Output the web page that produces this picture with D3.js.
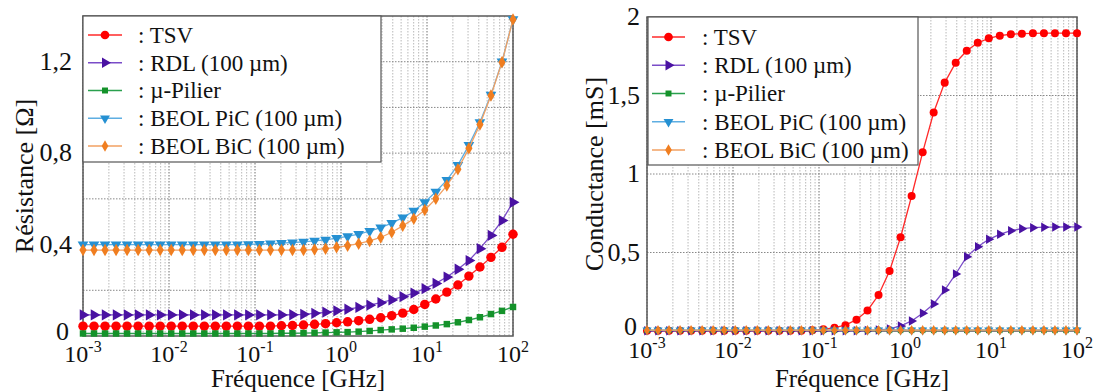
<!DOCTYPE html>
<html><head><meta charset="utf-8">
<script src="https://cdn.jsdelivr.net/npm/d3@7"></script>
<style>
body{margin:0;background:#fff}
svg{display:block}
text{font-family:"Liberation Serif","Times New Roman",serif;fill:#111}
</style>
</head><body>
<svg id="c" width="1100" height="392"></svg>
<script>
// ---------- DATA ----------
const freqGHz = [0.001,0.001343,0.001804,0.002424,0.003256,0.004375,0.005878,0.007897,0.01061,0.01425,
  0.01915,0.02573,0.03456,0.04642,0.06236,0.08377,0.1125,0.1512,0.2031,0.2728,
  0.3665,0.4924,0.6614,0.8886,1.194,1.604,2.154,2.894,3.888,5.223,
  7.017,9.427,12.66,17.01,22.86,30.70,41.25,55.41,74.44,100];

const seriesNames = [": TSV", ": RDL (100 µm)", ": µ-Pilier", ": BEOL PiC (100 µm)", ": BEOL BiC (100 µm)"];

// Résistance [Ω]
const resTSV = [0.043,0.043,0.043,0.043,0.043,0.043,0.043,0.043,0.043,0.043,
  0.043,0.043,0.043,0.043,0.043,0.043,0.043,0.043,0.045,0.046,
  0.048,0.051,0.054,0.058,0.062,0.067,0.073,0.080,0.089,0.100,
  0.116,0.138,0.162,0.192,0.223,0.262,0.302,0.344,0.388,0.445];
const resRDL = [0.092,0.092,0.092,0.092,0.092,0.092,0.092,0.092,0.092,0.092,
  0.092,0.092,0.092,0.092,0.092,0.092,0.092,0.092,0.092,0.093,
  0.095,0.099,0.104,0.110,0.117,0.125,0.135,0.146,0.158,0.172,
  0.188,0.207,0.230,0.258,0.292,0.330,0.382,0.440,0.505,0.585];
const resMu = [0.011,0.011,0.011,0.011,0.011,0.011,0.011,0.011,0.011,0.011,
  0.011,0.011,0.011,0.011,0.011,0.011,0.011,0.011,0.012,0.012,
  0.013,0.014,0.015,0.016,0.017,0.019,0.022,0.026,0.029,0.032,
  0.036,0.041,0.046,0.052,0.060,0.070,0.082,0.096,0.110,0.127];
const resPiC = [0.400,0.400,0.400,0.400,0.400,0.400,0.400,0.400,0.400,0.400,
  0.400,0.400,0.400,0.400,0.400,0.401,0.402,0.404,0.406,0.409,
  0.412,0.416,0.421,0.428,0.436,0.446,0.459,0.474,0.494,0.518,
  0.547,0.585,0.631,0.682,0.748,0.835,0.935,1.055,1.200,1.385];
const resBiC = [0.376,0.376,0.376,0.376,0.376,0.376,0.376,0.376,0.376,0.376,
  0.376,0.376,0.376,0.376,0.376,0.376,0.376,0.376,0.376,0.376,
  0.376,0.378,0.382,0.388,0.395,0.404,0.416,0.431,0.454,0.482,
  0.513,0.551,0.600,0.658,0.730,0.821,0.925,1.052,1.198,1.385];

// Conductance [mS]
const condTSV = [0.002,0.002,0.002,0.002,0.002,0.002,0.002,0.002,0.002,0.002,
  0.002,0.002,0.002,0.002,0.002,0.005,0.011,0.021,0.037,0.072,
  0.131,0.229,0.382,0.597,0.860,1.138,1.392,1.582,1.709,1.785,
  1.836,1.864,1.881,1.890,1.894,1.896,1.897,1.897,1.897,1.897];
const condRDL = [0.001,0.001,0.001,0.001,0.001,0.001,0.001,0.001,0.001,0.001,
  0.001,0.001,0.001,0.001,0.001,0.001,0.001,0.001,0.001,0.001,
  0.003,0.006,0.013,0.032,0.064,0.113,0.172,0.261,0.363,0.473,
  0.537,0.584,0.616,0.639,0.652,0.658,0.661,0.662,0.663,0.663];
const condMu = [0.004,0.004,0.004,0.004,0.004,0.004,0.004,0.004,0.004,0.004,
  0.004,0.004,0.004,0.004,0.004,0.004,0.004,0.004,0.004,0.004,
  0.004,0.004,0.004,0.004,0.004,0.004,0.004,0.004,0.004,0.004,
  0.004,0.004,0.004,0.004,0.004,0.004,0.004,0.004,0.004,0.004];
const condPiC = [0.005,0.005,0.005,0.005,0.005,0.005,0.005,0.005,0.005,0.005,
  0.005,0.005,0.005,0.005,0.005,0.005,0.005,0.005,0.005,0.005,
  0.005,0.005,0.005,0.005,0.005,0.005,0.005,0.005,0.005,0.005,
  0.005,0.005,0.005,0.005,0.005,0.005,0.005,0.005,0.005,0.005];
const condBiC = [0.005,0.005,0.005,0.005,0.005,0.005,0.005,0.005,0.005,0.005,
  0.005,0.005,0.005,0.005,0.005,0.005,0.005,0.005,0.005,0.005,
  0.005,0.005,0.005,0.005,0.005,0.005,0.005,0.005,0.005,0.005,
  0.005,0.005,0.005,0.005,0.005,0.005,0.005,0.005,0.005,0.005];

const xTickExps = [-3,-2,-1,0,1,2];
const resTicks = [0,0.4,0.8,1.2];
const resTickLabels = ["0","0,4","0,8","1,2"];
const resGrid = [0.2,0.4,0.6,0.8,1.0,1.2];
const condTicks = [0,0.5,1,1.5,2];
const condTickLabels = ["0","0,5","1","1,5","2"];
const condGrid = [0.5,1,1.5];

// ---------- STYLES ----------
const styles = [
  {line:"#ff2a2a", fill:"#ff0000", sym:d3.symbolCircle, rot:0, size:70},
  {line:"#7a4cc8", fill:"#4a12a2", sym:d3.symbolTriangle, rot:90, size:55},
  {line:"#2aa04e", fill:"#14922a", sym:d3.symbolSquare, rot:0, size:42},
  {line:"#5eaee2", fill:"#2590d2", sym:d3.symbolTriangle, rot:180, size:50},
  {line:"#f2a062", fill:"#f07e20", sym:d3.symbolDiamond, rot:0, size:45}
];

const panels = [
  {x0:83, x1:513, y0:16, y1:336, yMax:1.4, ticks:resTicks, tickLabels:resTickLabels, grid:resGrid,
   series:[resTSV,resRDL,resMu,resPiC,resBiC], title:"Résistance [Ω]", titleX:24, labelX:72, xlabY:362,
   legend:{x:83,y:16,w:298,h:146,l0:88,l1:122,tx:138,r0:35,step:27.75}, ms:1},
  {x0:647, x1:1077, y0:17, y1:331, yMax:2, ticks:condTicks, tickLabels:condTickLabels, grid:condGrid,
   series:[condTSV,condRDL,condMu,condPiC,condBiC], title:"Conductance [mS]", titleX:594, labelX:640, xlabY:358,
   legend:{x:648,y:17,w:270,h:148,l0:652,l1:685,tx:702,r0:37,step:28.25}, ms:0.72}
];

const svg = d3.select("#c");

panels.forEach(p => {
  const g = svg.append("g");
  const x = d3.scaleLog().domain([1e-3, 1e2]).range([p.x0, p.x1]);
  const y = d3.scaleLinear().domain([0, p.yMax]).range([p.y1, p.y0]);

  // vertical grid
  const minor = [], major = [];
  for (let e = -3; e <= 2; e++) {
    major.push(Math.pow(10, e));
    if (e < 2) for (let k = 2; k <= 9; k++) minor.push(k * Math.pow(10, e));
  }
  g.selectAll(".vmin").data(minor).enter().append("line")
    .attr("x1", d => x(d)).attr("x2", d => x(d)).attr("y1", p.y0).attr("y2", p.y1)
    .attr("stroke", "#b8b8b8").attr("stroke-width", 1).attr("stroke-dasharray", "1.5,1.5");
  g.selectAll(".vmaj").data(major).enter().append("line")
    .attr("x1", d => x(d)).attr("x2", d => x(d)).attr("y1", p.y0).attr("y2", p.y1)
    .attr("stroke", "#707070").attr("stroke-width", 1).attr("stroke-dasharray", "1.5,1.5");
  g.selectAll(".hg").data(p.grid).enter().append("line")
    .attr("x1", p.x0).attr("x2", p.x1).attr("y1", d => y(d)).attr("y2", d => y(d))
    .attr("stroke", "#888").attr("stroke-width", 1).attr("stroke-dasharray", "1.5,1.5");

  // frame
  g.append("rect").attr("x", p.x0).attr("y", p.y0).attr("width", p.x1 - p.x0).attr("height", p.y1 - p.y0)
    .attr("fill", "none").attr("stroke", "#5a5a5a").attr("stroke-width", 1.5);

  // series
  p.series.forEach((vals, si) => {
    const st = styles[si];
    const pts = freqGHz.map((f, i) => [f, vals[i]]);
    g.append("path").attr("d", d3.line().x(d => x(d[0])).y(d => y(d[1]))(pts))
      .attr("fill", "none").attr("stroke", st.line).attr("stroke-width", 1.3);
    const sym = d3.symbol().type(st.sym).size(st.size * p.ms);
    g.selectAll(null).data(pts).enter().append("path")
      .attr("d", sym)
      .attr("transform", d => `translate(${x(d[0])},${y(d[1])}) rotate(${st.rot})`)
      .attr("fill", st.fill);
  });

  // y tick labels (the "0" label sits a little higher so it clears the 10^-3 label)
  p.ticks.forEach((t, i) => {
    g.append("text").attr("x", t === 0 ? p.labelX - 3 : p.labelX).attr("y", y(t) - (t === 0 ? 4 : 0))
      .attr("dy", "0.32em").attr("text-anchor", "end").attr("font-size", 26).text(p.tickLabels[i]);
  });

  // x tick labels
  xTickExps.forEach(e => {
    const t = g.append("text").attr("x", x(Math.pow(10, e))).attr("y", p.xlabY)
      .attr("text-anchor", "middle").attr("font-size", 24);
    t.append("tspan").text("10");
    t.append("tspan").attr("font-size", 16).attr("dy", -10).text(e < 0 ? "-" + (-e) : String(e));
  });

  // axis titles
  g.append("text").attr("x", (p.x0 + p.x1) / 2).attr("y", 387).attr("text-anchor", "middle")
    .attr("font-size", 25).text("Fréquence [GHz]");
  g.append("text").attr("transform", `translate(${p.titleX},${(p.y0 + p.y1) / 2}) rotate(-90)`)
    .attr("text-anchor", "middle").attr("dy", "0.33em").attr("font-size", 26).text(p.title);

  // legend
  const L = p.legend;
  g.append("rect").attr("x", L.x).attr("y", L.y).attr("width", L.w).attr("height", L.h)
    .attr("fill", "#fff").attr("stroke", "#555").attr("stroke-width", 1.2);
  seriesNames.forEach((name, si) => {
    const st = styles[si];
    const ry = L.r0 + si * L.step;
    g.append("line").attr("x1", L.l0).attr("x2", L.l1).attr("y1", ry).attr("y2", ry)
      .attr("stroke", st.line).attr("stroke-width", 1.5);
    g.append("path").attr("d", d3.symbol().type(st.sym).size(st.size * 0.85)())
      .attr("transform", `translate(${(L.l0 + L.l1) / 2},${ry}) rotate(${st.rot})`)
      .attr("fill", st.fill);
    g.append("text").attr("x", L.tx).attr("y", ry).attr("dy", "0.34em")
      .attr("font-size", 23).text(name);
  });
});
</script>
</body></html>
